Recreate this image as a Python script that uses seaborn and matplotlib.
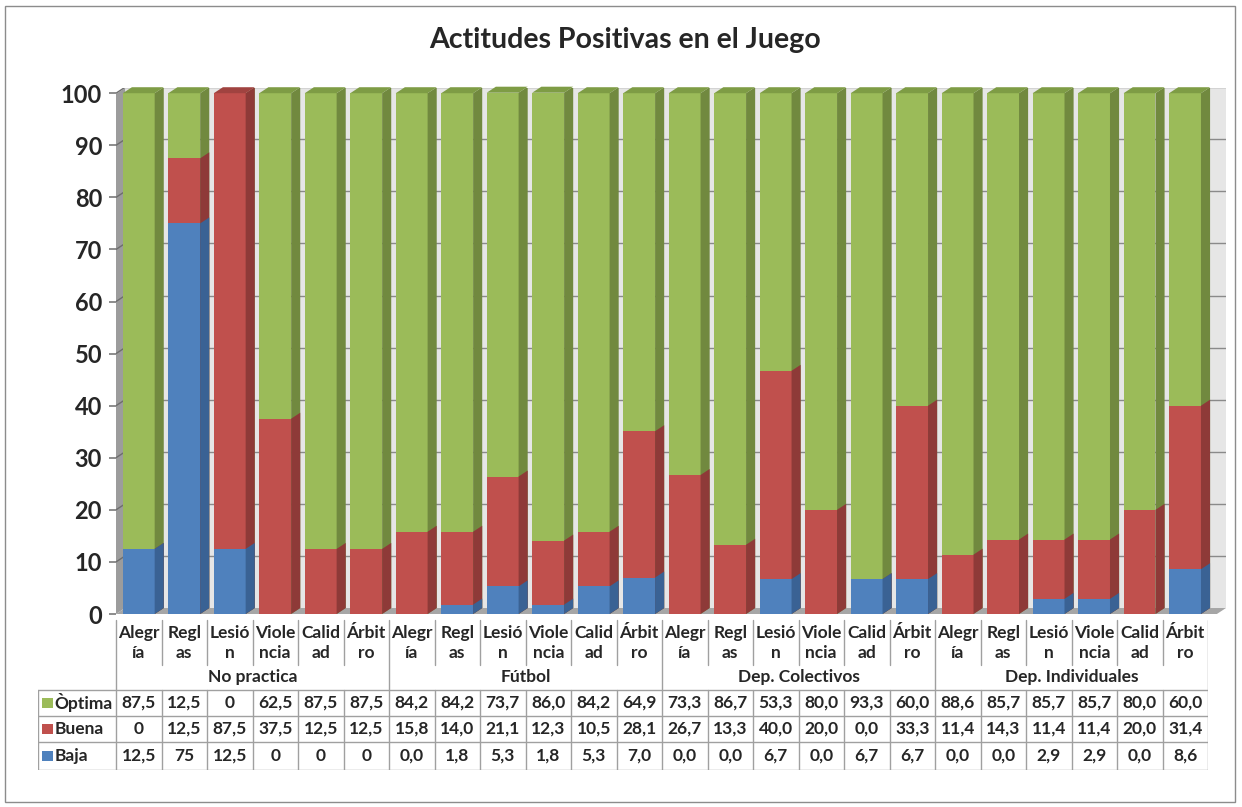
import numpy as np
import pandas as pd
import matplotlib
matplotlib.use("Agg")
import matplotlib.pyplot as plt
from matplotlib.patches import Polygon, Rectangle
import seaborn as sns

sns.set_theme(style="white")
plt.rcParams["font.family"] = ["Lato", "DejaVu Sans"]

grupos = ["No practica", "Fútbol", "Dep. Colectivos", "Dep. Individuales"]
aspectos = ["Alegr\nía", "Regl\nas", "Lesió\nn", "Viole\nncia", "Calid\nad", "Árbit\nro"]
optima = [87.5, 12.5, 0, 62.5, 87.5, 87.5,
          84.2, 84.2, 73.7, 86.0, 84.2, 64.9,
          73.3, 86.7, 53.3, 80.0, 93.3, 60.0,
          88.6, 85.7, 85.7, 85.7, 80.0, 60.0]
buena = [0, 12.5, 87.5, 37.5, 12.5, 12.5,
         15.8, 14.0, 21.1, 12.3, 10.5, 28.1,
         26.7, 13.3, 40.0, 20.0, 0.0, 33.3,
         11.4, 14.3, 11.4, 11.4, 20.0, 31.4]
baja = [12.5, 75, 12.5, 0, 0, 0,
        0.0, 1.8, 5.3, 1.8, 5.3, 7.0,
        0.0, 0.0, 6.7, 0.0, 6.7, 6.7,
        0.0, 0.0, 2.9, 2.9, 0.0, 8.6]
series = ["Òptima", "Buena", "Baja"]

front = {"Òptima": "#9BBB59", "Buena": "#C0504D", "Baja": "#4F81BD"}
side = {"Òptima": "#71893F", "Buena": "#8E3A38", "Baja": "#3A6294"}
top_c = {"Òptima": "#7E9C45", "Buena": "#A04340"}

df = pd.DataFrame({
    "grupo": np.repeat(grupos, len(aspectos)),
    "aspecto": aspectos * len(grupos),
    "Òptima": optima, "Buena": buena, "Baja": baja,
})
df["key"] = df["grupo"] + "|" + df["aspecto"]
df["c_baja"] = df["Baja"]
df["c_buena"] = df["Baja"] + df["Buena"]
df["c_optima"] = df["c_buena"] + df["Òptima"]

W, H = 1242, 807
fig = plt.figure(figsize=(W / 100, H / 100), dpi=100)
fig.patches.append(Rectangle((5 / W, 5 / H), 1230 / W, 796 / H, transform=fig.transFigure,
                             fill=False, edgecolor="#8C8C8C", lw=1))

ax = fig.add_axes([116 / W, 1 - 614 / H, 1110 / W, 526 / H])
n = len(df)
xmax = n - 0.5 + 0.4
bw = 0.7
dx, dy = 0.2, 1.15

# walls and floor
ax.add_patch(Polygon([(-0.5 + dx, dy), (xmax, dy), (xmax, 101), (-0.5 + dx, 101)],
                     closed=True, fc="#E6E6E6", ec="none", zorder=0))
ax.add_patch(Polygon([(-0.5, 0), (-0.5 + dx, dy), (-0.5 + dx, 101), (-0.5, 101 - dy)],
                     closed=True, fc="#9C9C9C", ec="none", zorder=0))
ax.add_patch(Polygon([(-0.5, 0), (xmax - dx, 0), (xmax, dy), (-0.5 + dx, dy)],
                     closed=True, fc="#A6A6A6", ec="none", zorder=0))
for v in range(10, 101, 10):
    ax.plot([-0.5 + dx, xmax], [v + dy, v + dy], color="#8A8A8A", lw=1, zorder=1)
    ax.plot([-0.5, -0.5 + dx], [v, v + dy], color="#6E6E6E", lw=1, zorder=1)

layers = [("c_optima", "Òptima"), ("c_buena", "Buena"), ("c_baja", "Baja")]
for col, name in layers:
    sns.barplot(data=df, x="key", y=col, color=front[name], saturation=1, width=bw,
                errorbar=None, ax=ax, zorder=3, linewidth=0)
    for i, h in enumerate(df[col]):
        if h <= 0:
            continue
        x1 = i + bw / 2
        ax.add_patch(Polygon([(x1, 0), (x1 + dx, dy), (x1 + dx, h + dy), (x1, h)],
                             closed=True, fc=side[name], ec="none", zorder=3))

for i, row in df.iterrows():
    name = "Òptima" if row["Òptima"] > 0 else "Buena"
    h = row["c_optima"]
    x0, x1 = i - bw / 2, i + bw / 2
    ax.add_patch(Polygon([(x0, h), (x0 + dx, h + dy), (x1 + dx, h + dy), (x1, h)],
                         closed=True, fc=top_c[name], ec="none", zorder=4, clip_on=False))

ax.set_xlim(-0.5, xmax)
ax.set_ylim(0, 101)
ax.set_xticks([])
ax.set_xlabel("")
ax.set_ylabel("")
ax.set_yticks(range(0, 101, 10))
ax.tick_params(axis="y", labelsize=17, length=5, pad=5, left=True, color="#7F7F7F")
for t in ax.get_yticklabels():
    t.set_fontweight("bold")
for s in ax.spines.values():
    s.set_visible(False)

fig.text(0.503, 1 - 40 / H, "Actitudes Positivas en el Juego", ha="center", va="center",
         fontsize=20.5, fontweight="bold")

# data table
tx = fig.add_axes([38 / W, 1 - 770 / H, 1170 / W, 156 / H])
x_left = -0.5 - 78 / 45.5
tx.set_xlim(x_left, n - 0.5)
tx.set_ylim(156, 0)
tx.axis("off")
lc = "#A0A0A0"
rows_y = [76, 102, 128, 156]
fs = 12.5
for y in rows_y:
    tx.plot([x_left, n - 0.5], [y, y], color=lc, lw=1)
tx.plot([x_left, x_left], [76, 156], color=lc, lw=1)
for k in range(n + 1):
    xb = k - 0.5
    if k % len(aspectos) == 0:
        tx.plot([xb, xb], [6, 156], color=lc, lw=1)
    else:
        tx.plot([xb, xb], [6, 51], color=lc, lw=1)
        tx.plot([xb, xb], [76, 156], color=lc, lw=1)

for i, row in df.iterrows():
    tx.text(i, 29, row["aspecto"], ha="center", va="center", fontsize=fs,
            fontweight="bold", linespacing=1.25)
    for r, name in enumerate(series):
        v = row[name]
        s = f"{v:g}" if row["grupo"] == grupos[0] else f"{v:.1f}"
        tx.text(i, (rows_y[r] + rows_y[r + 1]) / 2, s.replace(".", ","), ha="center",
                va="center", fontsize=fs, fontweight="bold")
for g, grupo in enumerate(grupos):
    c = g * len(aspectos) + (len(aspectos) - 1) / 2
    tx.text(c, 63, grupo, ha="center", va="center", fontsize=fs, fontweight="bold")
for r, name in enumerate(series):
    yc = (rows_y[r] + rows_y[r + 1]) / 2
    tx.add_patch(Rectangle((x_left + 0.08, yc - 5), 0.24, 10, fc=front[name], ec="none"))
    tx.text(x_left + 0.36, yc, name, ha="left", va="center", fontsize=fs, fontweight="bold")

fig.savefig("out.png", dpi=100)
